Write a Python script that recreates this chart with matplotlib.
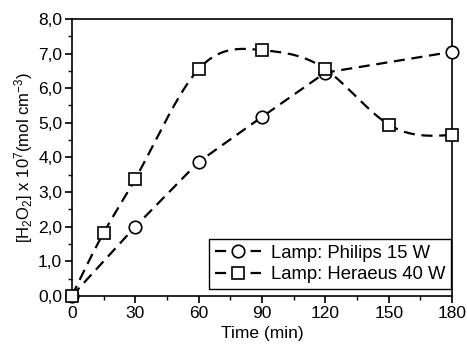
import numpy as np
import matplotlib
matplotlib.use("Agg")
import matplotlib.pyplot as plt
from matplotlib.ticker import MultipleLocator, FuncFormatter

plt.rcParams['font.family'] = ['Liberation Sans', 'DejaVu Sans']
plt.rcParams['mathtext.default'] = 'regular'

time_philips = [0, 30, 60, 90, 120, 180]
h2o2_philips = [0.0, 2.0, 3.87, 5.17, 6.45, 7.05]
time_heraeus = [0, 15, 30, 60, 90, 120, 150, 180]
h2o2_heraeus = [0.0, 1.82, 3.38, 6.55, 7.1, 6.55, 4.95, 4.65]
label_philips = "Lamp: Philips 15 W"
label_heraeus = "Lamp: Heraeus 40 W"


def natural_spline(x, y, n=400):
    x = np.asarray(x, float); y = np.asarray(y, float)
    k = len(x)
    h = np.diff(x)
    A = np.zeros((k, k)); b = np.zeros(k)
    A[0, 0] = 1; A[-1, -1] = 1
    for i in range(1, k - 1):
        A[i, i - 1] = h[i - 1]; A[i, i] = 2 * (h[i - 1] + h[i]); A[i, i + 1] = h[i]
        b[i] = 3 * ((y[i + 1] - y[i]) / h[i] - (y[i] - y[i - 1]) / h[i - 1])
    c = np.linalg.solve(A, b)
    xs = np.linspace(x[0], x[-1], n)
    ys = np.empty_like(xs)
    for j, xv in enumerate(xs):
        i = min(np.searchsorted(x, xv, side='right') - 1, k - 2)
        dx = xv - x[i]
        bi = (y[i + 1] - y[i]) / h[i] - h[i] * (2 * c[i] + c[i + 1]) / 3
        di = (c[i + 1] - c[i]) / (3 * h[i])
        ys[j] = y[i] + bi * dx + c[i] * dx ** 2 + di * dx ** 3
    return xs, ys


fig = plt.figure(figsize=(4.67, 3.51), dpi=100)
ax = fig.add_axes([0.154, 0.157, 0.814, 0.789])

dash = (0, (5, 3))
series = [(time_philips, h2o2_philips, 'o', 9.0, label_philips, False),
          (time_heraeus, h2o2_heraeus, 's', 8.0, label_heraeus, True)]
for t, v, m, ms, lab, smooth in series:
    if smooth:
        xs, ys = natural_spline(t, v)
    else:
        xs, ys = t, v
    ax.plot(xs, ys, color='black', ls=dash, lw=1.6, zorder=2)
    ax.plot(t, v, ls='none', marker=m, ms=ms, mfc='white', mec='black', mew=1.2,
            zorder=3, clip_on=False)
    ax.plot([], [], color='black', ls=dash, lw=1.6, marker=m, ms=ms,
            mfc='white', mec='black', mew=1.2, label=lab)

ax.set_xlim(0, 180)
ax.set_ylim(0, 8)
ax.xaxis.set_major_locator(MultipleLocator(30))
ax.xaxis.set_minor_locator(MultipleLocator(15))
ax.yaxis.set_major_locator(MultipleLocator(1))
ax.yaxis.set_minor_locator(MultipleLocator(0.5))
ax.yaxis.set_major_formatter(FuncFormatter(lambda v, p: f"{v:.1f}".replace('.', ',')))
ax.tick_params(which='major', direction='out', length=5, width=1.2, labelsize=12.5, pad=2)
ax.tick_params(which='minor', direction='out', length=3, width=1.0)
for s in ax.spines.values():
    s.set_linewidth(1.2)

ax.set_xlabel("Time (min)", fontsize=12.5, labelpad=4)
ax.set_ylabel("[H$_2$O$_2$] x 10$^7$(mol cm$^{-3}$)", fontsize=12, labelpad=2)

leg = ax.legend(loc='lower right', bbox_to_anchor=(0.997, 0.025), fontsize=13.3,
                frameon=True, fancybox=False, edgecolor='black', framealpha=1,
                handlelength=2.5, borderpad=0.3, labelspacing=0.25,
                handletextpad=0.55, borderaxespad=0)
leg.get_frame().set_linewidth(1.0)

fig.savefig("out.png", dpi=100)
